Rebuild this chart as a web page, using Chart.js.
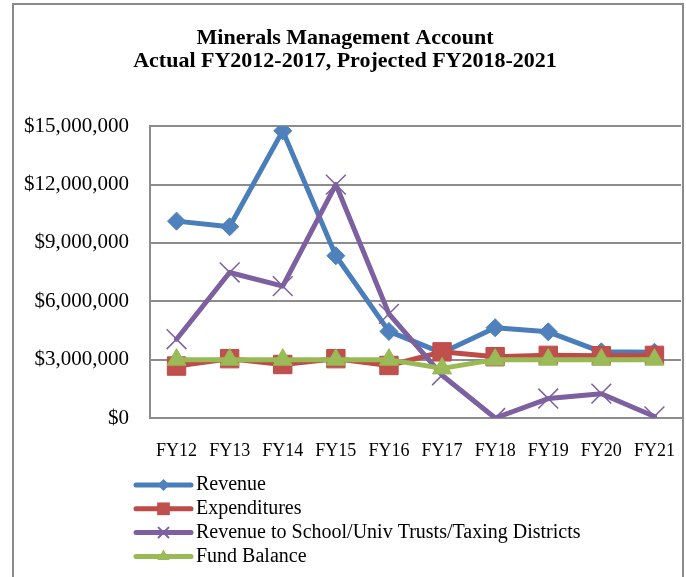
<!DOCTYPE html>
<html><head><meta charset="utf-8">
<script src="https://cdn.jsdelivr.net/npm/chart.js@4.4.1/dist/chart.umd.min.js"></script>
<style>
html,body{margin:0;padding:0;background:#fff;overflow:hidden;}
#wrap{position:relative;width:686px;height:577px;}
#frame{position:absolute;left:12px;top:3px;width:672px;height:600px;border:2px solid #8a8a8a;box-sizing:border-box;pointer-events:none;}
canvas{position:absolute;left:0;top:0;}
</style></head><body>
<div id="wrap"><canvas id="c" width="686" height="577"></canvas><div id="frame"></div></div>
<script>
const categories = ['FY12','FY13','FY14','FY15','FY16','FY17','FY18','FY19','FY20','FY21'];
const revenue = [10120000, 9830000, 14760000, 8340000, 4450000, 3350000, 4640000, 4430000, 3400000, 3380000];
const expenditures = [2670000, 3050000, 2750000, 3050000, 2700000, 3400000, 3150000, 3220000, 3200000, 3220000];
const trustRevenue = [4050000, 7480000, 6780000, 12000000, 5350000, 2200000, 0, 1000000, 1250000, 80000];
const fundBalance = [3000000, 3000000, 3000000, 3000000, 3000000, 2550000, 3000000, 3000000, 3000000, 3000000];
const seriesNames = ['Revenue', 'Expenditures', 'Revenue to School/Univ Trusts/Taxing Districts', 'Fund Balance'];
const titleLines = ['Minerals Management Account', 'Actual FY2012-2017, Projected FY2018-2021'];
const yMin = 0, yMax = 15000000, yStep = 3000000;

const FONT = 'Liberation Serif';

function drawMarker(ctx, style, x, y, r, fill, stroke, lw) {
  ctx.save();
  ctx.fillStyle = fill; ctx.strokeStyle = stroke; ctx.lineWidth = lw;
  ctx.beginPath();
  if (style === 'rectRot') {
    ctx.moveTo(x - r, y); ctx.lineTo(x, y - r); ctx.lineTo(x + r, y); ctx.lineTo(x, y + r); ctx.closePath();
    ctx.fill();
  } else if (style === 'rect') {
    const s = r * Math.SQRT1_2;
    ctx.rect(x - s, y - s, 2 * s, 2 * s); ctx.fill();
  } else if (style === 'triangle') {
    for (let k = 0; k < 3; k++) {
      const a = k * 2 * Math.PI / 3;
      const px = x + Math.sin(a) * r, py = y - Math.cos(a) * r;
      if (k === 0) ctx.moveTo(px, py); else ctx.lineTo(px, py);
    }
    ctx.closePath(); ctx.fill();
  } else if (style === 'crossRot') {
    const o = r * Math.SQRT1_2;
    ctx.moveTo(x - o, y - o); ctx.lineTo(x + o, y + o);
    ctx.moveTo(x - o, y + o); ctx.lineTo(x + o, y - o);
    ctx.stroke();
  }
  ctx.restore();
}

const vLegend = {
  id: 'vLegend',
  afterDraw(chart, args, opts) {
    const ctx = chart.ctx;
    const ds = chart.data.datasets;
    ctx.save();
    ds.forEach((d, i) => {
      const y = opts.top + i * opts.rowH;
      const x0 = opts.left, x1 = opts.left + opts.lineW;
      ctx.strokeStyle = d.borderColor; ctx.lineWidth = 5; ctx.lineCap = 'round';
      ctx.beginPath(); ctx.moveTo(x0, y); ctx.lineTo(x1, y); ctx.stroke();
      drawMarker(ctx, d.pointStyle, (x0 + x1) / 2, y, opts.markerR[i], d.pointBackgroundColor, d.pointBorderColor, 2);
      ctx.fillStyle = '#000';
      ctx.font = opts.font;
      ctx.textBaseline = 'middle'; ctx.textAlign = 'left';
      ctx.fillText(d.label, x1 + opts.gap, y);
    });
    ctx.restore();
  }
};

new Chart(document.getElementById('c'), {
  type: 'line',
  data: {
    labels: categories,
    datasets: [
      { label: seriesNames[0], data: revenue, borderColor: '#4A7EBB', backgroundColor: '#4F81BD',
        pointStyle: 'rectRot', pointRadius: 9, pointBackgroundColor: '#4F81BD', pointBorderColor: '#4A7EBB', pointBorderWidth: 1, order: 3 },
      { label: seriesNames[1], data: expenditures, borderColor: '#BE4B48', backgroundColor: '#C0504D',
        pointStyle: 'rect', pointRadius: 13, pointBackgroundColor: '#C0504D', pointBorderColor: '#BE4B48', pointBorderWidth: 1, order: 2 },
      { label: seriesNames[2], data: trustRevenue, borderColor: '#7D60A0', backgroundColor: '#8064A2',
        pointStyle: 'crossRot', pointRadius: 14, pointBackgroundColor: '#8064A2', pointBorderColor: '#7D60A0', pointBorderWidth: 1.5, order: 1 },
      { label: seriesNames[3], data: fundBalance, borderColor: '#98B954', backgroundColor: '#9BBB59',
        pointStyle: 'triangle', pointRadius: 11, pointBackgroundColor: '#9BBB59', pointBorderColor: '#98B954', pointBorderWidth: 1, order: 0 }
    ]
  },
  options: {
    responsive: false,
    animation: false,
    devicePixelRatio: 1,
    elements: { line: { borderWidth: 5, tension: 0, borderJoinStyle: 'round', borderCapStyle: 'round' } },
    layout: { autoPadding: false, padding: { left: 9, right: 5, top: 0, bottom: 119 } },
    plugins: {
      legend: { display: false },
      tooltip: { enabled: false },
      title: {
        display: true, text: titleLines, color: '#000',
        font: { family: FONT, size: 22, weight: 'bold', lineHeight: 1.05 },
        padding: { top: 27, bottom: 53 }
      },
      vLegend: { left: 136, lineW: 55, gap: 5, top: 485, rowH: 23.8, markerR: [6, 9, 7, 7],
        font: '20px "' + FONT + '"' }
    },
    scales: {
      x: {
        offset: true,
        grid: { display: false, drawTicks: false, offset: true },
        border: { display: true, color: '#8c8c8c', width: 2 },
        ticks: { color: '#000', font: { family: FONT, size: 18 }, padding: 22, maxRotation: 0 },
        afterFit(s) { s.height = 40; s.paddingLeft = 0; s.paddingRight = 0; }
      },
      y: {
        min: yMin, max: yMax,
        grid: { color: '#8c8c8c', lineWidth: 2, drawTicks: false },
        border: { display: true, color: '#8c8c8c', width: 2 },
        ticks: { stepSize: yStep, color: '#000', font: { family: FONT, size: 21 }, padding: 21,
          callback: v => '$' + Number(v).toLocaleString('en-US') },
        afterFit(s) { s.width = 141; }
      }
    }
  },
  plugins: [vLegend]
});
</script>
</body></html>
